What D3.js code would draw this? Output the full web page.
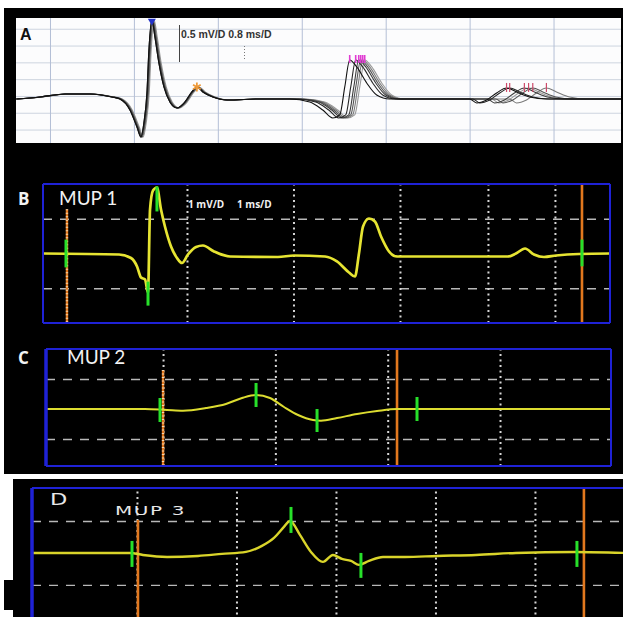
<!DOCTYPE html>
<html>
<head>
<meta charset="utf-8">
<script src="https://cdn.jsdelivr.net/npm/d3@7"></script>
<style>
  html, body { margin: 0; padding: 0; background: #fff; }
  svg { display: block; }
</style>
</head>
<body>
<svg id="fig" width="623" height="617"></svg>
<script>
// ---------- Panel A: superimposed sweeps (ms, mV) ----------
const aMainShape = [[-0.324,-0.089],[-0.095,-0.03],[0.143,0.06],[0.381,0.06],[0.59,-0.03],[0.667,-0.089],
  [0.762,-0.417],[0.829,-0.923],[0.867,-1.22],[0.895,-0.804],[0.924,0.089],[0.943,1.369],[0.971,2.262],
  [1.0,1.756],[1.038,0.982],[1.086,0.268],[1.143,-0.179],[1.21,-0.357],[1.286,-0.179],[1.352,0.119],
  [1.4,0.268],[1.457,0.119],[1.552,-0.03],[1.686,-0.119],[2.0,-0.089]];
const aLateShape = [[2.286,-0.089],[2.476,-0.179],[2.6,-0.417],[2.695,-0.655],[2.762,-0.565],[2.81,0.268],
  [2.857,1.071],[2.924,0.863],[3.019,0.387],[3.114,0.03],[3.238,-0.089],[3.6,-0.089]];
const aSatShape = [[3.7,-0.089],[4.0,-0.089],[4.067,-0.208],[4.162,-0.119],[4.257,0.089],[4.352,0.238],
  [4.448,0.119],[4.571,-0.03],[4.733,-0.089],[5.0,-0.089],[5.5,-0.089]];
// latency of each component in every sweep (ms)
const aMainLatency = [0, 0, 0.005, 0.01, 0.015, 0.022];
const aLateLatency = [0, 0.057, 0.086, 0.105, 0.124, 0.143];
const aSatLatency  = [0, 0.03, 0.17, 0.25, 0.38, 0.21];
const aGridT = [0, 0.8, 1.6, 2.4, 3.2, 4.0, 4.8];
const aGridV = [-1.0, -0.5, 0, 0.5, 1.0, 1.5, 2.0];

// ---------- Panel B: MUP 1 (ms, mV) ----------
const bTrace = [[-0.352,0],[0.362,-0.029],[0.474,-0.129],[0.531,-0.374],[0.568,-0.691],[0.606,-0.748],
  [0.634,-1.122],[0.653,1.266],[0.681,1.813],[0.718,1.899],[0.756,1.266],[0.793,0.777],[0.85,0.201],
  [0.906,-0.129],[0.953,-0.273],[1.009,-0.029],[1.085,0.187],[1.15,0.23],[1.254,0.058],[1.404,-0.086],
  [1.854,-0.101],[2.005,-0.058],[2.296,-0.086],[2.408,-0.23],[2.521,-0.547],[2.577,-0.662],[2.615,0],
  [2.653,0.777],[2.709,1.007],[2.765,0.921],[2.822,0.489],[2.897,0.058],[2.972,-0.086],[4.014,-0.086],
  [4.089,0],[4.174,0.144],[4.258,-0.029],[4.352,-0.101],[4.465,-0.058],[4.681,-0.014],[4.972,0]];
const bGridT = [1, 2, 3, 3.826, 4.455];
const bGridV = [-1, 1];
const bMarkers = [[-0.136,0.4,-0.4],[0.634,-0.81,-1.5],[0.718,1.93,1.21],[4.709,0.4,-0.37]];
const bCursors = [[-0.127,1.27,"ruler"],[4.709,2,"solid"]];

// ---------- Panel C: MUP 2 ----------
const cTrace = [[-0.051,0],[0.839,0],[1.035,-0.033],[1.178,-0.057],[1.383,0.033],[1.56,0.167],[1.703,0.367],
  [1.828,0.467],[1.952,0.367],[2.077,0.067],[2.202,-0.2],[2.335,-0.367],[2.406,-0.39],[2.549,-0.3],
  [2.727,-0.167],[2.905,-0.067],[3.083,0],[4.988,0]];
const cGridT = [1, 2, 3, 4];
const cGridV = [-1, 1];
const cMarkers = [[0.973,0.367,-0.433],[1.828,0.867,0.067],[2.371,0,-0.767],[3.261,0.4,-0.4]];
const cCursors = [[1.0,1.3,"ruler"],[3.083,2,"solid"]];

// ---------- Panel D: MUP 3 ----------
const dTrace = [[-0.065,0],[0.93,0],[1.06,-0.063],[1.302,-0.125],[1.613,-0.094],[1.854,-0.031],[2.095,0.031],
  [2.256,0.219],[2.377,0.469],[2.477,0.813],[2.538,1.0],[2.638,0.563],[2.749,0.031],[2.869,-0.281],
  [2.97,-0.063],[3.06,-0.188],[3.151,-0.25],[3.231,-0.375],[3.332,-0.25],[3.472,-0.125],[3.693,-0.125],
  [4.015,-0.094],[4.407,-0.063],[4.809,0],[5.402,0.031],[5.905,0]];
const dGridT = [1, 2, 3, 4, 5];
const dGridV = [-1, 1];
const dMarkers = [[0.95,0.375,-0.4375],[2.548,1.4375,0.625],[3.251,0,-0.78],[5.422,0.375,-0.4375]];
const dCursors = [[1.01,1.03,"solid"],[5.492,2.1,"solid"]];

// ---------- drawing ----------
const svg = d3.select("#fig");
const C = {
  blue: "#1f22d6", orange: "#e2781e", green: "#27e02a", yellow: "#e6e432",
  dash: "#b8b8b8", dot: "#d6d6d6"
};

// black backgrounds
svg.append("rect").attr("x", 4).attr("y", 8).attr("width", 619).attr("height", 466).attr("fill", "#000");
svg.append("rect").attr("x", 13).attr("y", 479).attr("width", 610).attr("height", 138).attr("fill", "#000");
svg.append("rect").attr("x", 4).attr("y", 580).attr("width", 12).attr("height", 30).attr("fill", "#000");

// ===== Panel A =====
const A = { x0: 16, x1: 621, y0: 18, y1: 143 };
const xA = d3.scaleLinear().domain([-0.324, 5.443]).range([A.x0, A.x1]);
const yA = d3.scaleLinear().domain([-1.40, 2.32]).range([A.y1, A.y0]);
const gA = svg.append("g");
gA.append("rect").attr("x", A.x0).attr("y", A.y0).attr("width", A.x1 - A.x0).attr("height", A.y1 - A.y0).attr("fill", "#fcfcfd");
svg.append("defs").append("clipPath").attr("id", "clipA")
  .append("rect").attr("x", A.x0).attr("y", A.y0).attr("width", A.x1 - A.x0).attr("height", A.y1 - A.y0);

gA.append("g").attr("transform", `translate(${A.x0},0)`)
  .call(d3.axisLeft(yA).tickValues(aGridV).tickSize(-(A.x1 - A.x0)).tickFormat(""))
  .call(s => s.select(".domain").remove())
  .selectAll("line").attr("stroke", "#cdd4df").attr("stroke-width", 1);
gA.append("g").attr("transform", `translate(0,${A.y1})`)
  .call(d3.axisTop(xA).tickValues(aGridT).tickSize(A.y1 - A.y0).tickFormat(""))
  .call(s => s.select(".domain").remove())
  .selectAll("line").attr("stroke", "#b4bfd6").attr("stroke-width", 1);

// calibration
gA.append("line").attr("x1", 179.5).attr("x2", 179.5).attr("y1", 25).attr("y2", 62).attr("stroke", "#444").attr("stroke-width", 1);
gA.append("line").attr("x1", 244.5).attr("x2", 244.5).attr("y1", 46).attr("y2", 61).attr("stroke", "#777").attr("stroke-width", 1).attr("stroke-dasharray", "1,2");
gA.append("text").attr("x", 181).attr("y", 37.5).text("0.5 mV/D 0.8 ms/D")
  .attr("font-family", "Liberation Sans, Arial, sans-serif").attr("font-weight", "bold").attr("font-size", 10.5).attr("fill", "#333");
gA.append("text").attr("x", 20).attr("y", 40).text("A")
  .attr("font-family", "Liberation Sans, Arial, sans-serif").attr("font-weight", "bold").attr("font-size", 16).attr("fill", "#111");

const lineA = d3.line().x(d => xA(d[0])).y(d => yA(d[1])).curve(d3.curveMonotoneX);
const aSweepColor = ["#111", "#262626", "#3c3c3c", "#555", "#7a7a7a", "#9a9a9a"];
const sweeps = aMainLatency.map((_, i) => {
  const main = aMainShape.map(([t, v]) => [t + aMainLatency[i], v]);
  const late = aLateShape.map(([t, v]) => [t + aLateLatency[i], v]);
  const sat = aSatShape.map(([t, v]) => [t + aSatLatency[i], v]);
  const all = [];
  [...main, ...late, ...sat].forEach(p => { if (!all.length || p[0] > all[all.length - 1][0]) all.push(p); });
  return { main, late, sat, all, i };
});
const gTr = gA.append("g").attr("clip-path", "url(#clipA)");
gTr.selectAll("path").data(sweeps.slice().reverse()).join("path")
  .attr("d", d => lineA(d.all)).attr("fill", "none")
  .attr("stroke", d => aSweepColor[d.i]).attr("stroke-width", 1.1).attr("stroke-linejoin", "round");

// peak markers
const mainPeak = d3.greatest(sweeps[0].main, d => d[1]);
gA.append("path").attr("d", d3.symbol(d3.symbolTriangle, 28)())
  .attr("transform", `translate(${xA(mainPeak[0])},${yA(mainPeak[1]) + 1}) rotate(180)`).attr("fill", "#2433c8");
const secPeak = d3.greatest(sweeps[0].main.filter(d => d[0] > 1.25), d => d[1]);
gA.append("path").attr("d", d3.symbol(d3.symbolAsterisk, 55)())
  .attr("transform", `translate(${xA(secPeak[0])},${yA(secPeak[1])})`)
  .attr("fill", "none").attr("stroke", "#ee9a3a").attr("stroke-width", 1.8);
sweeps.forEach(s => {
  const p = d3.greatest(s.late, d => d[1]);
  gA.append("line").attr("x1", xA(p[0])).attr("x2", xA(p[0])).attr("y1", yA(p[1]) - 5).attr("y2", yA(p[1]) + 3)
    .attr("stroke", "#e03cd2").attr("stroke-width", 1.6);
  const q = d3.greatest(s.sat, d => d[1]);
  gA.append("line").attr("x1", xA(q[0])).attr("x2", xA(q[0])).attr("y1", yA(q[1]) - 5).attr("y2", yA(q[1]) + 4)
    .attr("stroke", "#cc4a6a").attr("stroke-width", 1.2);
});

// ===== oscilloscope panels =====
function scope(cfg) {
  const g = svg.append("g");
  const x = d3.scaleLinear().domain(cfg.tDomain).range([cfg.x0, cfg.x1]);
  const y = d3.scaleLinear().domain(cfg.vDomain).range([cfg.y1, cfg.y0]);
  const clipId = "clip" + cfg.name;
  svg.select("defs").append("clipPath").attr("id", clipId)
    .append("rect").attr("x", cfg.x0).attr("y", cfg.y0).attr("width", cfg.x1 - cfg.x0).attr("height", cfg.y1 - cfg.y0);

  g.append("g").attr("transform", `translate(${cfg.x0},0)`)
    .call(d3.axisLeft(y).tickValues(cfg.gridV).tickSize(-(cfg.x1 - cfg.x0)).tickFormat(""))
    .call(s => s.select(".domain").remove())
    .selectAll("line").attr("stroke", C.dash).attr("stroke-width", 1.4).attr("stroke-dasharray", "9,8");
  g.append("g").attr("transform", `translate(0,${cfg.y1})`)
    .call(d3.axisTop(x).tickValues(cfg.gridT).tickSize(cfg.y1 - cfg.y0).tickFormat(""))
    .call(s => s.select(".domain").remove())
    .selectAll("line").attr("stroke", C.dot).attr("stroke-width", 2).attr("stroke-dasharray", "2,3.5");

  // cursors
  cfg.cursors.forEach(([t, top, kind]) => {
    g.append("line").attr("x1", x(t)).attr("x2", x(t)).attr("y1", y(Math.min(top, cfg.vDomain[1]))).attr("y2", cfg.y1)
      .attr("stroke", C.orange).attr("stroke-width", kind === "ruler" ? 2.4 : 2.6);
    if (kind === "ruler")
      g.append("line").attr("x1", x(t)).attr("x2", x(t)).attr("y1", y(top)).attr("y2", cfg.y1)
        .attr("stroke", "#f6d7b0").attr("stroke-width", 2.4).attr("stroke-dasharray", "1,2.5");
  });

  // trace
  const line = d3.line().x(d => x(d[0])).y(d => y(d[1])).curve(d3.curveMonotoneX);
  g.append("path").attr("clip-path", `url(#${clipId})`).attr("d", line(cfg.trace)).attr("fill", "none")
    .attr("stroke", cfg.traceColor).attr("stroke-width", cfg.traceWidth).attr("stroke-linejoin", "round");

  // component markers
  g.selectAll("line.mk").data(cfg.markers).join("line").attr("class", "mk")
    .attr("x1", d => x(d[0])).attr("x2", d => x(d[0])).attr("y1", d => y(d[1])).attr("y2", d => y(d[2]))
    .attr("stroke", C.green).attr("stroke-width", 3);

  // frame
  const fr = g.append("g").attr("stroke", C.blue).attr("fill", "none");
  fr.append("line").attr("x1", cfg.x0).attr("x2", cfg.x1).attr("y1", cfg.y0).attr("y2", cfg.y0).attr("stroke-width", 2);
  fr.append("line").attr("x1", cfg.x0).attr("x2", cfg.x1).attr("y1", cfg.y1).attr("y2", cfg.y1).attr("stroke-width", 2);
  fr.append("line").attr("x1", cfg.x0).attr("x2", cfg.x0).attr("y1", cfg.y0).attr("y2", cfg.y1).attr("stroke-width", cfg.leftW);
  fr.append("line").attr("x1", cfg.x1).attr("x2", cfg.x1).attr("y1", cfg.y0).attr("y2", cfg.y1).attr("stroke-width", 2);
  return { g, x, y };
}

const B = scope({ name: "B", x0: 43, x1: 610, y0: 184, y1: 323, tDomain: [-0.352, 4.972], vDomain: [-2, 2],
  gridT: bGridT, gridV: bGridV, trace: bTrace, markers: bMarkers, cursors: bCursors,
  traceColor: C.yellow, traceWidth: 2.7, leftW: 2 });
const Cp = scope({ name: "C", x0: 46, x1: 611, y0: 349, y1: 466, tDomain: [-0.042, 4.988], vDomain: [-1.9, 2.0],
  gridT: cGridT, gridV: cGridV, trace: cTrace, markers: cMarkers, cursors: cCursors,
  traceColor: "#dcdc30", traceWidth: 2, leftW: 3.5 });
const D = scope({ name: "D", x0: 32, x1: 626, y0: 488, y1: 620, tDomain: [-0.055, 5.915], vDomain: [-2.097, 2.03],
  gridT: dGridT, gridV: dGridV, trace: dTrace, markers: dMarkers, cursors: dCursors,
  traceColor: "#d9d42a", traceWidth: 2.4, leftW: 3.5 });

// labels
const lab = (x, y, txt, size, weight, family) => svg.append("text").attr("x", x).attr("y", y).text(txt)
  .attr("font-family", family || "Lato, 'Open Sans', sans-serif").attr("font-size", size)
  .attr("font-weight", weight || "normal").attr("fill", "#f2f2f2");
lab(18, 205, "B", 17, "bold", "'Open Sans', sans-serif");
lab(59, 205, "MUP 1", 19);
lab(188, 208, "1 mV/D", 10, "bold", "'Open Sans', sans-serif");
lab(237, 208, "1 ms/D", 10, "bold", "'Open Sans', sans-serif");
lab(18, 364, "C", 17, "bold", "'Open Sans', sans-serif");
lab(67, 364, "MUP 2", 19);
svg.append("text").attr("transform", "translate(50,505) scale(1.5,1)").text("D")
  .attr("font-family", "'DejaVu Sans', sans-serif").attr("font-size", 15).attr("fill", "#e8e8e8");
svg.append("text").attr("transform", "translate(115,515) scale(1.6,1)").text("MUP 3")
  .attr("font-family", "'DejaVu Sans', sans-serif").attr("font-size", 12.5).attr("letter-spacing", 1).attr("fill", "#e8e8e8");
</script>
</body>
</html>
